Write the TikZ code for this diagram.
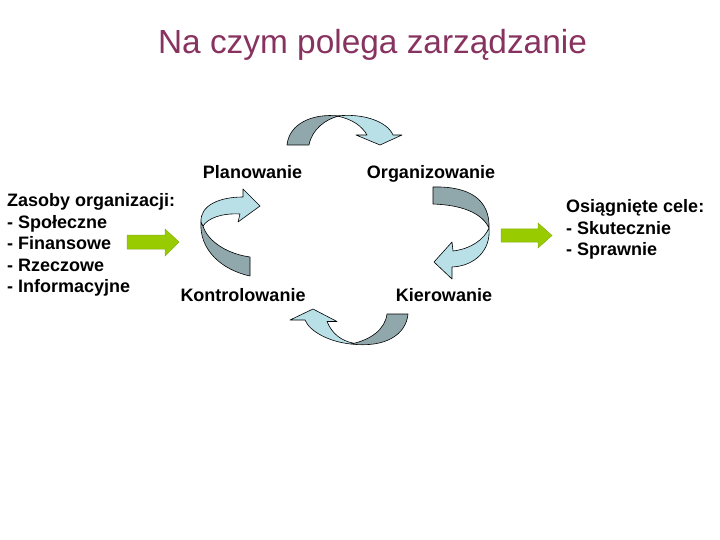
\documentclass[tikz,border=0pt]{standalone}
\usepackage{fontspec}
\setmainfont{Liberation Sans}
\usepackage{tikz}
\definecolor{tytul}{RGB}{136,50,96}
\definecolor{ciemny}{RGB}{144,168,172}
\definecolor{jasny}{RGB}{184,224,230}
\definecolor{zielen}{RGB}{153,204,0}
\definecolor{zielenbrzeg}{RGB}{135,175,20}

\begin{document}
\begin{tikzpicture}[x=1pt,y=-1pt,
  lbl/.style={inner sep=0,font=\bfseries\fontsize{18}{21.5}\selectfont},
  tyl/.style={fill=ciemny,draw=black,line width=.6pt,line join=round},
  przod/.style={fill=jasny,draw=black,line width=.6pt,line join=round},
  strzalka/.style={fill=zielen,draw=zielenbrzeg,line width=.5pt}]
  \useasboundingbox (0,0) rectangle (720,540);
  \node[inner sep=0,anchor=base,text=tytul,font=\fontsize{33.4}{40}\selectfont] at (372.5,54) (title) {Na czym polega zarządzanie};
  \node[lbl,anchor=base] at (252.5,178.5) (plan) {Planowanie};
  \node[lbl,anchor=base] at (431,178.5) (org) {Organizowanie};
  \node[lbl,anchor=base] at (243,301.5) (kontr) {Kontrolowanie};
  \node[lbl,anchor=base] at (444,301.5) (kier) {Kierowanie};
  \node[lbl,anchor=north west,align=left] at (7,193.5) (zasoby) {Zasoby organizacji:\\- Społeczne\\- Finansowe\\- Rzeczowe\\- Informacyjne};
  \node[lbl,anchor=north west,align=left] at (566,199.5) (cele) {Osiągnięte cele:\\- Skutecznie\\- Sprawnie};
  \draw [tyl] (287,145) .. controls (289,124) and (312,113) .. (339,116) .. controls (326,119) and (312,129) .. (309,145) -- cycle;
  \draw [przod] (337,116) .. controls (362,113) and (387,121) .. (393,135) -- (402,135) -- (380,145) -- (356,135) -- (367,135) .. controls (362,126) and (352,119) .. (337,116) -- cycle;
  \draw [tyl] (433,187) .. controls (470,186) and (490,200) .. (489,228) .. controls (482,213) and (462,205) .. (433,204) -- cycle;
  \draw [przod] (489,228) .. controls (491,250) and (475,266) .. (452,267) -- (452,279) -- (434,262) -- (452,242) -- (453,251) .. controls (470,249) and (484,240) .. (489,228) -- cycle;
  \draw [tyl] (387,314) -- (408,314) .. controls (406,335) and (385,348) .. (351,344) .. controls (370,340) and (385,330) .. (387,314) -- cycle;
  \draw [przod] (351,344) .. controls (330,342) and (310,332) .. (305,320) -- (290,320) -- (313,309) -- (337,321.5) -- (327,321.5) .. controls (332,334) and (342,341) .. (353,343) -- cycle;
  \draw [tyl] (201,222) .. controls (199,250) and (222,270) .. (250,276) -- (250,257) .. controls (228,254) and (208,242) .. (203,226) -- cycle;
  \draw [przod] (201,222) .. controls (200,205) and (220,197) .. (243,197) -- (243,189) -- (260,206) -- (238,222) -- (240,214) .. controls (222,213) and (208,218) .. (203,226) -- cycle;
  \draw [strzalka] (127,235) -- (165,235) -- (165,229) -- (179,242) -- (165,256) -- (165,249) -- (127,249) -- cycle;
  \draw [strzalka] (501,229) -- (538,229) -- (538,223) -- (552,235.5) -- (538,248) -- (538,242) -- (501,242) -- cycle;
\end{tikzpicture}
\end{document}
